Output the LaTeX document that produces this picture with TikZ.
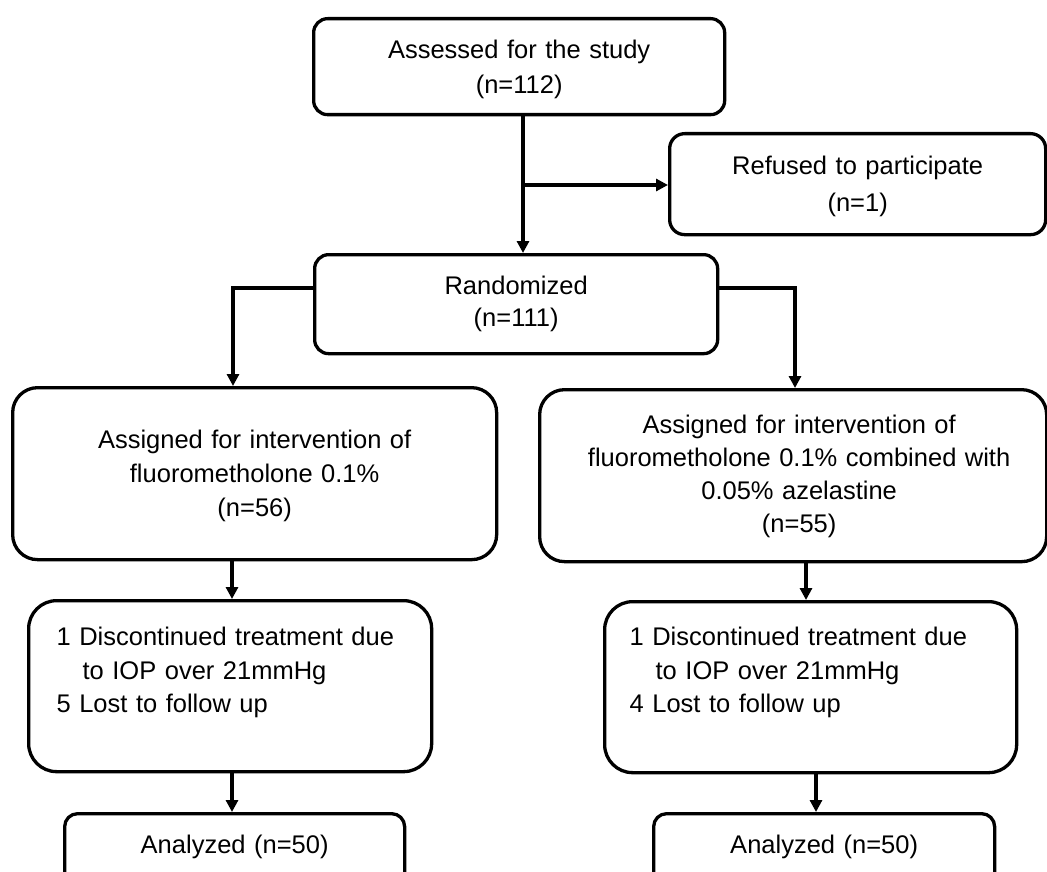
\documentclass[tikz,border=0pt]{standalone}
\usepackage{fontspec}
\setmainfont{Liberation Sans}
\usetikzlibrary{arrows.meta}
\begin{document}
\begin{tikzpicture}[x=1pt,y=-1pt,
  box/.style={draw=black, line width=3.3pt, inner sep=0pt, anchor=north west, align=center},
  lbox/.style={draw=black, line width=3.3pt, inner ysep=0pt, anchor=north west, align=left},
  arr/.style={line width=3.3pt, -{Triangle[length=12pt,width=12pt]}}]
\clip (0,0) rectangle (1047,872);
\fill[white] (0,0) rectangle (1047,872);
% boxes
\node[box, rounded corners=14pt, text width=411pt, text height=40pt, text depth=56pt,
  font=\fontsize{25.5}{35}\selectfont] (assess) at (312,17) {Assessed for the study\\(n=112)};
\node[box, rounded corners=15pt, text width=376pt, text height=41pt, text depth=60pt,
  font=\fontsize{25.5}{37}\selectfont] (refused) at (668,132) {Refused to participate\\(n=1)};
\node[box, rounded corners=14pt, text width=403pt, text height=40pt, text depth=59pt,
  font=\fontsize{25.5}{32}\selectfont] (rand) at (313,253) {Randomized\\(n=111)};
\node[box, rounded corners=25pt, text width=484pt, text height=61pt, text depth=111pt,
  font=\fontsize{25.5}{34}\selectfont] (assignL) at (11,386) {Assigned for intervention of\\fluorometholone 0.1\%\\(n=56)};
\node[box, rounded corners=25pt, text width=507pt, text height=44pt, text depth=128pt,
  font=\fontsize{25.5}{33}\selectfont] (assignR) at (538,388) {\hspace*{12pt}Assigned for intervention of\\\hspace*{12pt}fluorometholone 0.1\% combined with\\\hspace*{12pt}0.05\% azelastine\\\hspace*{12pt}(n=55)};
\node[lbox, rounded corners=28pt, inner xsep=28pt, text width=347pt, text height=45pt, text depth=126pt,
  font=\fontsize{25.5}{33.5}\selectfont] (discL) at (27,599) {1 Discontinued treatment due\\\hspace*{26pt}to IOP over 21mmHg\\5 Lost to follow up};
\node[lbox, rounded corners=28pt, inner xsep=25pt, text width=362pt, text height=44pt, text depth=127pt,
  font=\fontsize{25.5}{33.5}\selectfont] (discR) at (603,600) {1 Discontinued treatment due\\\hspace*{26pt}to IOP over 21mmHg\\4 Lost to follow up};
\node[box, rounded corners=13pt, text width=340pt, text height=40pt, text depth=60pt,
  font=\fontsize{25.5}{33}\selectfont] (anaL) at (63,812) {Analyzed (n=50)};
\node[box, rounded corners=13pt, text width=341pt, text height=40pt, text depth=60pt,
  font=\fontsize{25.5}{33}\selectfont] (anaR) at (652,812) {Analyzed (n=50)};
% connectors
\coordinate (j1) at (523,185);
\draw[arr] (assess.south -| j1) -- (rand.north -| j1);
\draw[arr] (j1) -- (j1 -| refused.west);
\coordinate (bl) at (233,288);
\coordinate (br) at (795,288);
\draw[arr] (rand.west |- bl) -- (bl) -- (assignL.north -| bl);
\draw[arr] (rand.east |- br) -- (br) -- (assignR.north -| br);
\coordinate (cl) at (232,0);
\coordinate (cr1) at (806,0);
\coordinate (cr2) at (816,0);
\draw[arr] (assignL.south -| cl) -- (discL.north -| cl);
\draw[arr] (discL.south -| cl) -- (anaL.north -| cl);
\draw[arr] (assignR.south -| cr1) -- (discR.north -| cr1);
\draw[arr] (discR.south -| cr2) -- (anaR.north -| cr2);
\end{tikzpicture}
\end{document}
